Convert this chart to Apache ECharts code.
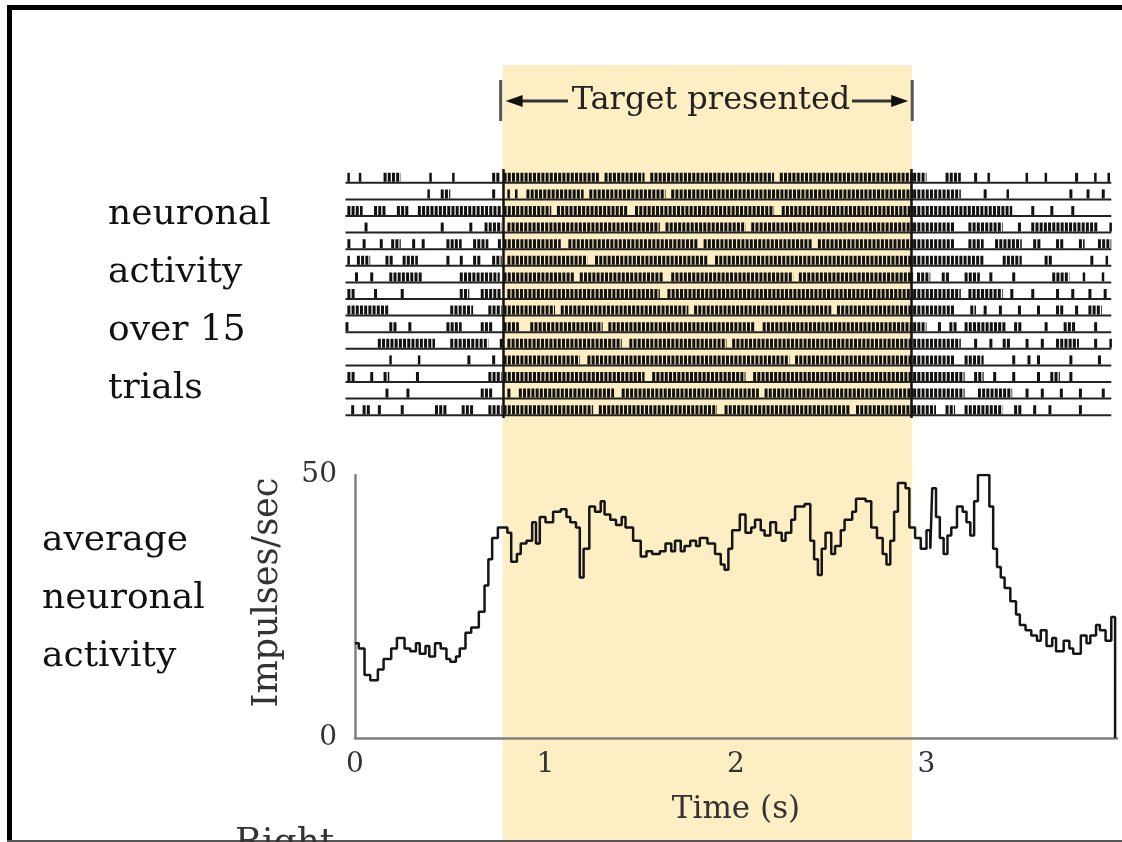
<!DOCTYPE html>
<html>
<head>
<meta charset="utf-8">
<title>Neuronal activity</title>
<script src="https://cdn.jsdelivr.net/npm/echarts@6/dist/echarts.min.js"></script>
<style>
html, body { margin: 0; padding: 0; background: #fff; }
#chart { width: 1122px; height: 842px; }
</style>
</head>
<body>
<div id="chart"></div>
<script>
// target on screen (s)
const targetStart = 0.775
const targetEnd = 2.925

// extent of the raster baselines (s)
const rasterFrom = -0.05
const rasterTo = 3.97

const timeTicks = [0, 1, 2, 3]
const rateTicks = [0, 50]

const trialIds = [0, 1, 2, 3, 4, 5, 6, 7, 8, 9, 10, 11, 12, 13, 14]

// dark runs of spikes per trial, [start, end] in s
const rasterRuns = [
  [[-0.04, -0.03], [0.02, 0.03], [0.15, 0.24], [0.39, 0.40], [0.51, 0.52], [0.72, 0.76],
   [0.78, 1.28], [1.31, 1.52], [1.55, 2.20], [2.23, 2.93],
   [2.93, 3.00], [3.10, 3.18], [3.25, 3.27], [3.32, 3.33], [3.52, 3.53], [3.62, 3.63], [3.78, 3.80], [3.88, 3.89], [3.95, 3.96]],
  [[0.38, 0.39], [0.45, 0.50], [0.72, 0.74],
   [0.80, 0.81], [0.84, 0.85], [0.90, 1.20], [1.23, 1.63], [1.66, 2.93],
   [2.93, 3.18], [3.30, 3.32], [3.42, 3.43], [3.75, 3.77], [3.84, 3.86], [3.92, 3.94]],
  [[-0.04, 0.04], [0.10, 0.16], [0.22, 0.28], [0.33, 0.77],
   [0.78, 1.03], [1.06, 1.43], [1.47, 2.20], [2.24, 2.93],
   [2.93, 3.45], [3.55, 3.57], [3.65, 3.67], [3.76, 3.78]],
  [[0.05, 0.07], [0.45, 0.47], [0.60, 0.62], [0.68, 0.77],
   [0.80, 1.60], [1.63, 2.05], [2.08, 2.93],
   [2.93, 3.15], [3.22, 3.40], [3.48, 3.50], [3.55, 3.90], [3.96, 3.97]],
  [[-0.04, -0.02], [0.04, 0.06], [0.13, 0.15], [0.19, 0.24], [0.30, 0.32], [0.35, 0.37], [0.48, 0.56], [0.62, 0.70], [0.75, 0.77],
   [0.78, 1.08], [1.12, 1.80], [1.83, 2.40], [2.43, 2.93],
   [2.93, 3.15], [3.22, 3.30], [3.36, 3.50], [3.56, 3.60], [3.68, 3.72], [3.80, 3.83], [3.90, 3.97]],
  [[-0.04, -0.03], [0.01, 0.08], [0.16, 0.20], [0.25, 0.33], [0.48, 0.50], [0.55, 0.57], [0.62, 0.66], [0.72, 0.77],
   [0.80, 1.22], [1.26, 1.85], [1.89, 2.93],
   [2.93, 3.30], [3.40, 3.50], [3.62, 3.66], [3.86, 3.88], [3.94, 3.95]],
  [[0.00, 0.02], [0.08, 0.10], [0.18, 0.35], [0.55, 0.76],
   [0.78, 1.15], [1.18, 1.62], [1.66, 2.30], [2.33, 2.93],
   [2.95, 3.02], [3.08, 3.12], [3.20, 3.28], [3.33, 3.35], [3.45, 3.47], [3.66, 3.75], [3.82, 3.83], [3.92, 3.93]],
  [[-0.04, 0.00], [0.10, 0.12], [0.24, 0.26], [0.55, 0.60], [0.66, 0.77],
   [0.80, 1.60], [1.64, 2.93],
   [2.93, 3.18], [3.22, 3.40], [3.44, 3.46], [3.55, 3.57], [3.68, 3.70], [3.76, 3.78], [3.85, 3.87], [3.93, 3.95]],
  [[-0.04, 0.18], [0.50, 0.62], [0.70, 0.77],
   [0.78, 1.05], [1.08, 1.75], [1.78, 2.50], [2.53, 2.93],
   [2.93, 3.15], [3.23, 3.26], [3.30, 3.32], [3.38, 3.40], [3.48, 3.50], [3.58, 3.60], [3.68, 3.72], [3.78, 3.80], [3.85, 3.92]],
  [[-0.05, -0.03], [0.18, 0.22], [0.28, 0.30], [0.48, 0.56], [0.66, 0.72],
   [0.78, 0.86], [0.92, 1.30], [1.33, 2.10], [2.14, 2.93],
   [2.93, 3.00], [3.06, 3.08], [3.12, 3.16], [3.20, 3.42], [3.46, 3.50], [3.62, 3.64], [3.72, 3.78], [3.88, 3.90]],
  [[0.12, 0.42], [0.50, 0.70], [0.76, 0.78],
   [0.80, 1.40], [1.44, 1.95], [1.98, 2.93],
   [2.93, 3.18], [3.25, 3.27], [3.33, 3.35], [3.40, 3.44], [3.52, 3.54], [3.60, 3.62], [3.68, 3.80], [3.88, 3.90], [3.96, 3.97]],
  [[0.18, 0.19], [0.33, 0.34], [0.59, 0.61], [0.72, 0.74],
   [0.78, 1.18], [1.22, 2.28], [2.31, 2.93],
   [2.93, 3.15], [3.20, 3.30], [3.45, 3.47], [3.53, 3.55], [3.58, 3.60], [3.75, 3.77], [3.90, 3.92]],
  [[-0.04, 0.00], [0.08, 0.10], [0.15, 0.18], [0.32, 0.34], [0.70, 0.77],
   [0.78, 1.52], [1.56, 2.05], [2.09, 2.93],
   [2.93, 3.20], [3.25, 3.30], [3.35, 3.37], [3.45, 3.47], [3.58, 3.60], [3.65, 3.70], [3.75, 3.77]],
  [[0.16, 0.18], [0.27, 0.29], [0.66, 0.72],
   [0.80, 0.82], [0.86, 1.36], [1.40, 2.12], [2.15, 2.93],
   [2.93, 3.20], [3.27, 3.45], [3.52, 3.54], [3.60, 3.62], [3.70, 3.72], [3.80, 3.82], [3.92, 3.94]],
  [[-0.02, 0.00], [0.04, 0.08], [0.12, 0.14], [0.24, 0.26], [0.42, 0.48], [0.56, 0.62], [0.70, 0.77],
   [0.78, 1.25], [1.28, 1.90], [1.94, 2.60], [2.63, 2.93],
   [2.93, 3.05], [3.10, 3.15], [3.20, 3.40], [3.46, 3.50], [3.56, 3.58], [3.64, 3.66], [3.80, 3.82]]
]

// average firing rate, [time (s), impulses/sec]
const avgActivity = [
  [0.00, 18], [0.02, 17], [0.05, 12], [0.08, 11], [0.12, 13], [0.15, 15], [0.19, 17], [0.22, 19],
  [0.26, 17], [0.29, 16.5], [0.32, 18], [0.34, 16], [0.37, 17.5], [0.39, 15.5], [0.42, 18], [0.45, 17],
  [0.48, 15], [0.50, 14.5], [0.53, 15.5], [0.55, 17], [0.58, 20], [0.61, 21], [0.65, 24], [0.68, 29],
  [0.70, 34], [0.72, 38], [0.75, 40], [0.80, 39], [0.82, 33.5], [0.85, 35], [0.87, 37], [0.90, 37.5],
  [0.93, 41], [0.95, 37], [0.97, 42], [1.00, 41], [1.04, 43], [1.08, 43.5], [1.11, 42], [1.13, 41],
  [1.16, 40], [1.18, 30.5], [1.20, 36], [1.23, 44], [1.26, 43], [1.29, 45], [1.31, 42.5], [1.34, 41.5],
  [1.37, 40.5], [1.40, 42], [1.42, 40], [1.46, 37.5], [1.50, 34.5], [1.53, 35.5], [1.56, 35], [1.60, 35.5],
  [1.63, 37], [1.66, 35.5], [1.68, 37.5], [1.71, 35.5], [1.73, 36.5], [1.76, 37.5], [1.79, 36.5], [1.81, 38],
  [1.85, 37], [1.89, 35], [1.92, 33], [1.94, 32], [1.96, 36], [1.98, 39.5], [2.02, 42.5], [2.05, 39],
  [2.08, 40], [2.10, 41.5], [2.13, 39.5], [2.15, 38.5], [2.18, 41], [2.21, 39], [2.24, 37.5], [2.26, 39],
  [2.29, 41.5], [2.31, 44], [2.36, 44.5], [2.39, 37.5], [2.41, 34], [2.43, 31], [2.45, 36], [2.47, 39],
  [2.50, 35], [2.52, 36.5], [2.55, 39.5], [2.57, 41.5], [2.61, 43], [2.63, 45.5], [2.68, 45], [2.71, 40],
  [2.74, 38], [2.77, 35], [2.79, 33], [2.81, 37.5], [2.83, 43], [2.85, 48.5], [2.89, 47.5], [2.91, 40],
  [2.94, 38], [2.97, 36], [3.00, 39.5], [3.02, 36], [3.03, 47.5], [3.05, 42], [3.07, 38], [3.09, 35],
  [3.11, 38.5], [3.13, 40], [3.16, 44], [3.19, 43], [3.21, 41], [3.23, 38.5], [3.25, 45], [3.27, 50],
  [3.31, 50], [3.33, 44], [3.35, 36], [3.37, 32.5], [3.39, 30.5], [3.41, 28.5], [3.44, 26], [3.47, 23.5],
  [3.49, 21.5], [3.52, 20.5], [3.55, 19.5], [3.58, 18.5], [3.60, 20.5], [3.63, 17.5], [3.66, 19], [3.68, 16.5],
  [3.72, 18.5], [3.75, 17], [3.77, 16], [3.81, 19.5], [3.84, 18], [3.86, 19.5], [3.89, 21.5], [3.91, 20.5],
  [3.94, 18.5], [3.97, 23], [3.99, 0]
]

const serif = 'DejaVu Serif'
const chart = echarts.init(document.getElementById('chart'))

const runData = []
rasterRuns.forEach((runs, i) => {
  runs.forEach(r => runData.push([trialIds[i], r[0], r[1]]))
})

const hiddenX = { type: 'value', min: 0, max: 4, show: false }

chart.setOption({
  animation: false,
  backgroundColor: '#fff',
  grid: [
    { left: 355, right: 5, top: 65, bottom: 0 },
    { left: 355, right: 5, top: 169, height: 249 },
    { left: 355, right: 5, top: 475, height: 263 }
  ],
  xAxis: [
    Object.assign({ gridIndex: 0 }, hiddenX),
    Object.assign({ gridIndex: 1 }, hiddenX),
    {
      gridIndex: 2,
      type: 'value',
      min: 0,
      max: 4,
      interval: 1,
      name: 'Time (s)',
      nameLocation: 'middle',
      nameGap: 56,
      nameTextStyle: { fontFamily: serif, fontSize: 31, color: '#333' },
      axisLine: { lineStyle: { color: '#808080', width: 2.5 } },
      axisTick: { show: false },
      splitLine: { show: false },
      axisLabel: {
        fontFamily: serif,
        fontSize: 28,
        color: '#333',
        margin: 13,
        formatter: v => (timeTicks.includes(v) ? String(v) : '')
      }
    }
  ],
  yAxis: [
    { gridIndex: 0, type: 'value', min: 0, max: 1, show: false },
    { gridIndex: 1, type: 'value', min: -0.5, max: 14.5, inverse: true, show: false },
    {
      gridIndex: 2,
      type: 'value',
      min: 0,
      max: 50,
      interval: 50,
      name: 'Impulses/sec',
      nameLocation: 'middle',
      nameGap: 70,
      nameTextStyle: { fontFamily: serif, fontSize: 35, color: '#333', padding: [0, 0, 0, 28] },
      axisLine: { show: true, lineStyle: { color: '#808080', width: 2.5 } },
      axisTick: { show: false },
      splitLine: { show: false },
      axisLabel: {
        fontFamily: serif,
        fontSize: 28,
        color: '#333',
        margin: 18,
        formatter: v => (rateTicks.includes(v) ? String(v) : '')
      }
    }
  ],
  series: [
    {
      // yellow band while the target is shown
      type: 'custom',
      xAxisIndex: 0,
      yAxisIndex: 0,
      silent: true,
      z: 0,
      data: [[targetStart, targetEnd]],
      renderItem: (params, api) => {
        const a = api.coord([api.value(0), 1])
        const b = api.coord([api.value(1), 0])
        return {
          type: 'rect',
          shape: { x: a[0], y: a[1], width: b[0] - a[0], height: b[1] - a[1] },
          style: { fill: '#FDEFC3' }
        }
      }
    },
    {
      // trial baselines
      type: 'custom',
      xAxisIndex: 1,
      yAxisIndex: 1,
      silent: true,
      z: 2,
      data: trialIds.map(i => [i]),
      renderItem: (params, api) => {
        const a = api.coord([rasterFrom, api.value(0)])
        const b = api.coord([rasterTo, api.value(0)])
        return {
          type: 'line',
          shape: { x1: a[0], y1: a[1] + 5.5, x2: b[0], y2: b[1] + 5.5 },
          style: { stroke: '#222', lineWidth: 2 }
        }
      },
      markLine: {
        silent: true,
        symbol: 'none',
        label: { show: false },
        lineStyle: { color: '#111', width: 2.5, type: 'solid' },
        data: [{ xAxis: targetStart }, { xAxis: targetEnd }]
      }
    },
    {
      // spikes
      type: 'custom',
      xAxisIndex: 1,
      yAxisIndex: 1,
      silent: true,
      z: 3,
      data: runData,
      renderItem: (params, api) => {
        const a = api.coord([api.value(1), api.value(0)])
        const b = api.coord([api.value(2), api.value(0)])
        const w = Math.max(b[0] - a[0], 2.5)
        return {
          type: 'line',
          shape: { x1: a[0], y1: a[1], x2: a[0] + w, y2: a[1] },
          style: { stroke: '#111', lineWidth: 9, lineDash: [3, 1.2] }
        }
      }
    },
    {
      type: 'line',
      xAxisIndex: 2,
      yAxisIndex: 2,
      step: 'end',
      symbol: 'none',
      silent: true,
      z: 4,
      lineStyle: { color: '#151515', width: 2.5 },
      data: avgActivity
    }
  ]
})

// bracket and labels placed from the axis scale
const xL = chart.convertToPixel({ xAxisIndex: 0 }, targetStart)
const xR = chart.convertToPixel({ xAxisIndex: 0 }, targetEnd)
const yB = 101
const textFont = '36px "' + serif + '"'

chart.setOption({
  graphic: [
    { type: 'rect', shape: { x: 7, y: 5, width: 1115, height: 5 }, style: { fill: '#000' } },
    { type: 'rect', shape: { x: 7, y: 5, width: 5, height: 837 }, style: { fill: '#000' } },
    { type: 'rect', shape: { x: 7, y: 840, width: 1115, height: 2 }, style: { fill: '#555' } },
    { type: 'line', shape: { x1: xL - 2, y1: 80, x2: xL - 2, y2: 121 }, style: { stroke: '#555', lineWidth: 3 } },
    { type: 'line', shape: { x1: xR, y1: 80, x2: xR, y2: 121 }, style: { stroke: '#555', lineWidth: 3 } },
    { type: 'line', shape: { x1: xL + 14, y1: yB, x2: 568, y2: yB }, style: { stroke: '#333', lineWidth: 3 } },
    { type: 'line', shape: { x1: 852, y1: yB, x2: xR - 14, y2: yB }, style: { stroke: '#333', lineWidth: 3 } },
    { type: 'polygon', shape: { points: [[xL + 3, yB], [xL + 20, yB - 6], [xL + 20, yB + 6]] }, style: { fill: '#111' } },
    { type: 'polygon', shape: { points: [[xR - 4, yB], [xR - 21, yB - 6], [xR - 21, yB + 6]] }, style: { fill: '#111' } },
    {
      type: 'text',
      x: 711,
      y: yB,
      style: { text: 'Target presented', font: '32px "' + serif + '"', fill: '#222', align: 'center', verticalAlign: 'middle' }
    },
    {
      type: 'text',
      x: 108,
      y: 186,
      style: { text: 'neuronal\nactivity\nover 15\ntrials', font: textFont, lineHeight: 58, fill: '#111', verticalAlign: 'top' }
    },
    {
      type: 'text',
      x: 42,
      y: 512,
      style: { text: 'average\nneuronal\nactivity', font: textFont, lineHeight: 58, fill: '#111', verticalAlign: 'top' }
    },
    {
      type: 'text',
      x: 235,
      y: 826,
      style: { text: 'Right', font: textFont, fill: '#333', verticalAlign: 'top' }
    }
  ]
})

window.addEventListener('resize', () => chart.resize())
</script>
</body>
</html>
